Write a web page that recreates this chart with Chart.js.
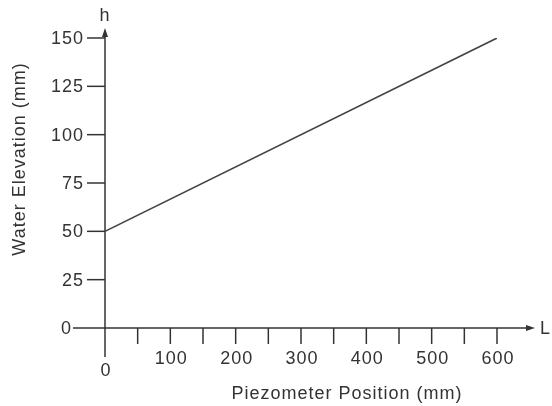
<!DOCTYPE html>
<html><head><meta charset="utf-8">
<script src="https://cdn.jsdelivr.net/npm/chart.js@4"></script>
<style>html,body{margin:0;padding:0;background:#fff;overflow:hidden;}</style>
</head><body>
<canvas id="c" width="552" height="406"></canvas>
<script>
const positions = [0, 600];
const elevations = [50, 150];
const xTickValues = [50, 100, 150, 200, 250, 300, 350, 400, 450, 500, 550, 600];
const xTickLabels = ['', '100', '', '200', '', '300', '', '400', '', '500', '', '600'];
const yTickValues = [0, 25, 50, 75, 100, 125, 150];
const yTickLabels = ['0', '25', '50', '75', '100', '125', '150'];
const originLabel = '0';
const xTitle = 'Piezometer Position (mm)';
const yTitle = 'Water Elevation (mm)';
const xAxisName = 'L';
const yAxisName = 'h';

const AX = '#333333';
const FONT = '18px "Liberation Sans", Arial, sans-serif';

const axesPlugin = {
  id: 'sketchAxes',
  beforeDatasetsDraw(chart) {
    const ctx = chart.ctx;
    const xs = chart.scales.x, ys = chart.scales.y;
    const x0 = xs.getPixelForValue(0), y0 = ys.getPixelForValue(0);
    const yTop = ys.getPixelForValue(150) - 10;
    const xEnd = xs.getPixelForValue(600) + 38;
    ctx.save();
    ctx.strokeStyle = AX; ctx.fillStyle = AX; ctx.lineWidth = 1.5;
    if ('letterSpacing' in ctx) ctx.letterSpacing = '1px';
    // y axis
    ctx.beginPath(); ctx.moveTo(x0, y0 + 29); ctx.lineTo(x0, yTop + 4); ctx.stroke();
    ctx.beginPath(); ctx.moveTo(x0, yTop); ctx.lineTo(x0 - 3, yTop + 9); ctx.lineTo(x0 + 3, yTop + 9); ctx.closePath(); ctx.fill();
    // x axis
    ctx.beginPath(); ctx.moveTo(x0 - 32, y0); ctx.lineTo(xEnd - 4, y0); ctx.stroke();
    ctx.beginPath(); ctx.moveTo(xEnd, y0); ctx.lineTo(xEnd - 9, y0 - 3); ctx.lineTo(xEnd - 9, y0 + 3); ctx.closePath(); ctx.fill();
    // y ticks
    ctx.font = FONT; ctx.textAlign = 'right'; ctx.textBaseline = 'middle';
    yTickValues.forEach((v, i) => {
      const py = ys.getPixelForValue(v);
      if (v !== 0) { ctx.beginPath(); ctx.moveTo(x0 - 18, py); ctx.lineTo(x0, py); ctx.stroke(); }
      ctx.fillText(yTickLabels[i], x0 - (v === 0 ? 33 : 21), py + 1);
    });
    // x ticks
    ctx.textAlign = 'center';
    xTickValues.forEach((v, i) => {
      const px = xs.getPixelForValue(v);
      ctx.beginPath(); ctx.moveTo(px, y0); ctx.lineTo(px, y0 + 16); ctx.stroke();
      if (xTickLabels[i]) ctx.fillText(xTickLabels[i], px + 1, y0 + 31);
    });
    ctx.fillText(originLabel, x0 + 1, y0 + 43);
    // axis names
    ctx.textAlign = 'left';
    ctx.fillText(xAxisName, xEnd + 5, y0 + 1);
    ctx.textAlign = 'center';
    ctx.fillText(yAxisName, x0, yTop - 12);
    // titles
    ctx.fillText(xTitle, 347, y0 + 66);
    ctx.save();
    ctx.translate(20, 159); ctx.rotate(-Math.PI / 2);
    ctx.fillText(yTitle, 0, 0);
    ctx.restore();
    ctx.restore();
  }
};

new Chart(document.getElementById('c'), {
  type: 'line',
  data: {
    datasets: [{
      data: positions.map((x, i) => ({ x: x, y: elevations[i] })),
      borderColor: '#444444', borderWidth: 1.6, pointRadius: 0, tension: 0, fill: false
    }]
  },
  options: {
    responsive: false, animation: false,
    layout: { padding: { left: 105, right: 55, top: 38, bottom: 78 } },
    scales: {
      x: { type: 'linear', min: 0, max: 600, display: false },
      y: { type: 'linear', min: 0, max: 150, display: false }
    },
    plugins: { legend: { display: false }, tooltip: { enabled: false } }
  },
  plugins: [axesPlugin]
});
</script>
</body></html>
